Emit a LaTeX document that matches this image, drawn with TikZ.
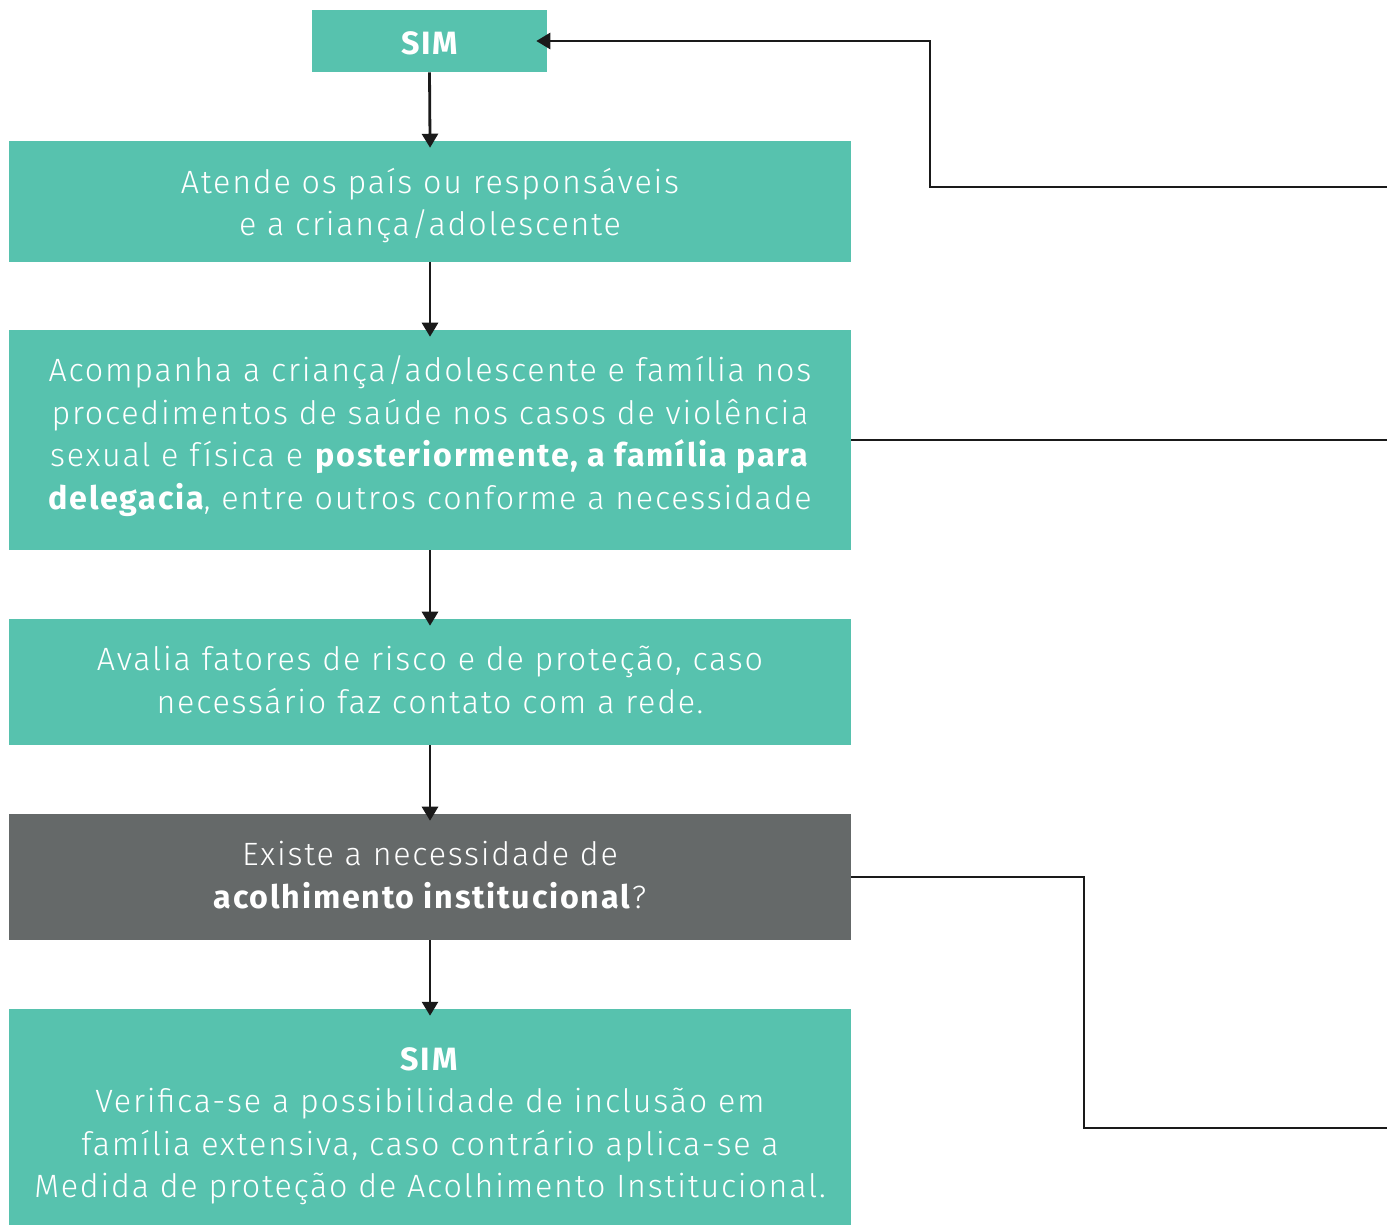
\documentclass[tikz,border=0pt]{standalone}
\usepackage{fontspec}
\setmainfont{Fira Sans Light}[LetterSpace=5.5,BoldFont={Fira Sans Bold}]
\usetikzlibrary{arrows.meta}
\definecolor{teal1}{HTML}{57C2AE}
\definecolor{gray1}{HTML}{656969}
\definecolor{line1}{HTML}{1A1A1A}
\begin{document}
\begin{tikzpicture}[x=0.75pt,y=-0.75pt,
  box/.style={fill=teal1,draw=none,inner sep=0pt,minimum width=842*0.75pt},
  gbox/.style={box,fill=gray1},
  txt/.style={text=white,align=center,inner sep=0pt,
    font=\fontsize{24.2}{31.9}\selectfont},
  conn/.style={draw=line1,line width=2.1pt},
  arr/.style={conn,-{Triangle[length=10.5pt,width=12pt]},shorten >=-5.25pt}]
\useasboundingbox (0,0) rectangle (1387,1225);
\node[box,minimum width=235*0.75pt,minimum height=62*0.75pt] (sim) at (429.5,41) {};
\node[txt,font=\fontsize{24.2}{31.9}\bfseries\selectfont] (tsim) at ([yshift=-1.5pt]sim.center) {SIM};
\node[box,minimum height=121*0.75pt] (b2) at (430,201.5) {};
\node[txt] (t2) at ([yshift=-3pt]b2.center) {Atende os país ou responsáveis\\e a criança/adolescente};
\node[box,minimum height=220*0.75pt] (b3) at (430,440) {};
\node[txt] (t3) at ([yshift=3pt]b3.center) {Acompanha a criança/adolescente e família nos\\procedimentos de saúde nos casos de violência\\sexual e física e \textbf{posteriormente, a família para}\\\textbf{delegacia}, entre outros conforme a necessidade};
\node[box,minimum height=126*0.75pt] (b4) at (430,682) {};
\node[txt] (t4) at ([yshift=1.5pt]b4.center) {Avalia fatores de risco e de proteção, caso\\necessário faz contato com a rede.};
\node[gbox,minimum height=126*0.75pt] (b5) at (430,877) {};
\node[txt] (t5) at ([yshift=1.5pt]b5.center) {Existe a necessidade de\\\textbf{acolhimento institucional}?};
\node[box,minimum height=216*0.75pt] (b6) at (430,1117) {};
\node[txt] (t6) at ([yshift=-7pt]b6.center) {\textbf{SIM}\\Verifica-se a possibilidade de inclusão em\\família extensiva, caso contrário aplica-se a\\Medida de proteção de Acolhimento Institucional.};
\coordinate (e1) at (1387,187);
\coordinate (e2) at (1387,440);
\coordinate (e3) at (1387,1128);
\draw[arr] (sim.south) -- (b2.north);
\draw[arr] (b2.south) -- (b3.north);
\draw[arr] (b3.south) -- (b4.north);
\draw[arr] (b4.south) -- (b5.north);
\draw[arr] (b5.south) -- (b6.north);
\draw[arr,shorten >=-8.25pt] (e1) -- (930,187) |- (sim.east);
\draw[conn] (b3.east) -- (e2);
\draw[conn] (b5.east) -- (1084,877) |- (e3);
\end{tikzpicture}
\end{document}
